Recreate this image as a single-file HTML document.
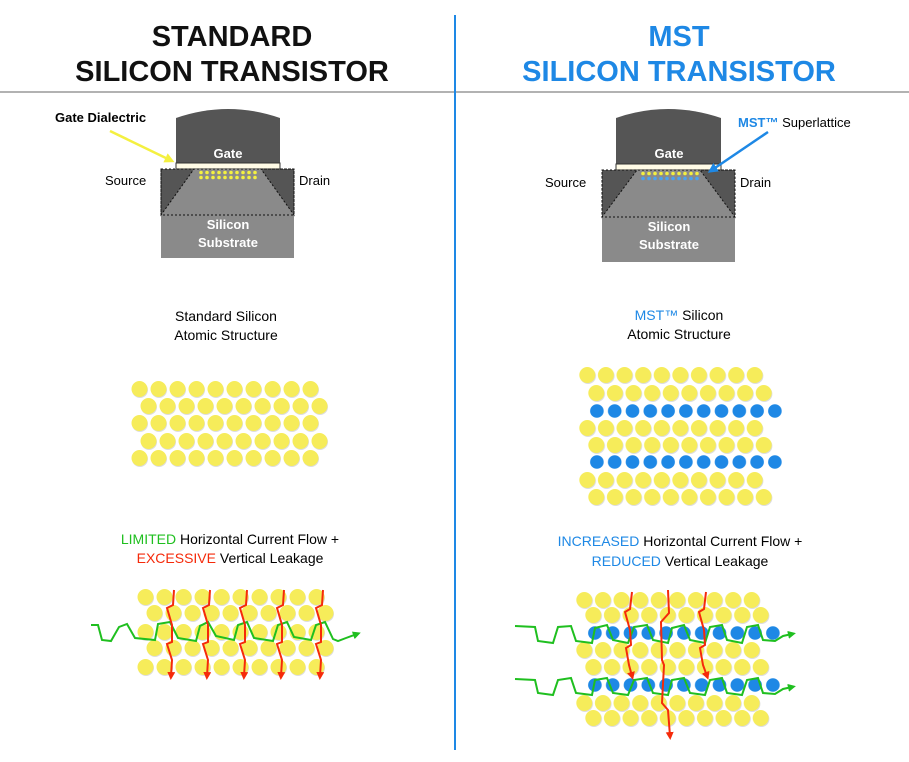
<!DOCTYPE html>
<html><head><meta charset="utf-8"><style>
html,body{margin:0;padding:0;background:#fff;}
svg{display:block;font-family:"Liberation Sans",sans-serif;}
</style></head><body>
<svg width="909" height="762" viewBox="0 0 909 762" xmlns="http://www.w3.org/2000/svg">
<defs>
<pattern id="py" x="0" y="0" width="19" height="20" patternUnits="userSpaceOnUse">
<circle cx="10" cy="11" r="8" fill="#ddd"/><circle cx="9.5" cy="10" r="8" fill="#f6ec5a"/></pattern>
<pattern id="pyr" x="0" y="0" width="18.6" height="20" patternUnits="userSpaceOnUse">
<circle cx="10" cy="11" r="8" fill="#ddd"/><circle cx="9.3" cy="10" r="8" fill="#f6ec5a"/></pattern>
<pattern id="pb" x="0" y="0" width="17.8" height="20" patternUnits="userSpaceOnUse">
<circle cx="8.9" cy="10" r="6.8" fill="#1e88e5"/></pattern>
<pattern id="ps" x="0" y="0" width="6" height="5" patternUnits="userSpaceOnUse">
<circle cx="3" cy="2.5" r="1.8" fill="#f4f040"/></pattern>
<pattern id="psb" x="0" y="0" width="6" height="5" patternUnits="userSpaceOnUse">
<circle cx="3" cy="2.5" r="1.8" fill="#4aa3f0"/></pattern>
<marker id="arr" viewBox="0 0 10 10" refX="5" refY="5" markerWidth="4" markerHeight="4" orient="auto"><path d="M0,0L10,5L0,10z" fill="#f52a0a"/></marker>
<marker id="arg" viewBox="0 0 10 10" refX="5" refY="5" markerWidth="4" markerHeight="4" orient="auto"><path d="M0,0L10,5L0,10z" fill="#1fbf1f"/></marker>
<marker id="ary" viewBox="0 0 10 10" refX="5" refY="5" markerWidth="4" markerHeight="4" orient="auto"><path d="M0,0L10,5L0,10z" fill="#f4f040"/></marker>
<marker id="arb" viewBox="0 0 10 10" refX="5" refY="5" markerWidth="4" markerHeight="4" orient="auto"><path d="M0,0L10,5L0,10z" fill="#1e88e5"/></marker>
</defs>

<g font-weight="bold" font-size="29" text-anchor="middle">
<text x="232" y="46" fill="#111">STANDARD</text>
<text x="232" y="81" fill="#111">SILICON TRANSISTOR</text>
<text x="679" y="46" fill="#1e88e5">MST</text>
<text x="679" y="81" fill="#1e88e5">SILICON TRANSISTOR</text>
</g>
<line x1="0" y1="92" x2="909" y2="92" stroke="#999" stroke-width="1.5"/>
<line x1="455" y1="15" x2="455" y2="750" stroke="#1e88e5" stroke-width="2"/>

<!-- left transistor -->
<g>
<path d="M176,163 L176,118 Q228,100 280,118 L280,163 Z" fill="#555"/>
<rect x="176" y="163" width="104" height="6" fill="#fffbe6" stroke="#333" stroke-width="1"/>
<rect x="161" y="169" width="133" height="89" fill="#8a8a8a"/>
<path d="M161,169 L194,169 L161,215 Z" fill="#555" stroke="#111" stroke-width="1" stroke-dasharray="2,2"/>
<path d="M294,169 L261,169 L294,215 Z" fill="#555" stroke="#111" stroke-width="1" stroke-dasharray="2,2"/>
<rect x="161" y="169" width="133" height="46" fill="none" stroke="#111" stroke-dasharray="2,2"/>
<g transform="translate(198,170)"><rect width="60" height="10" fill="url(#ps)"/></g>
<text x="228" y="158" fill="#fff" font-size="13" font-weight="bold" text-anchor="middle">Gate</text>
<text x="228" y="229" fill="#fff" font-size="13" font-weight="bold" text-anchor="middle">Silicon</text>
<text x="228" y="247" fill="#fff" font-size="13" font-weight="bold" text-anchor="middle">Substrate</text>
<text x="105" y="185" font-size="13">Source</text>
<text x="299" y="185" font-size="13">Drain</text>
<text x="55" y="122" font-size="13" font-weight="bold">Gate Dialectric</text>
<line x1="110" y1="131" x2="170" y2="160" stroke="#f4f040" stroke-width="2.5" marker-end="url(#ary)"/>
</g>

<!-- right transistor -->
<g>
<path d="M616,164 L616,118 Q668,100 721,118 L721,164 Z" fill="#555"/>
<rect x="616" y="164" width="105" height="6" fill="#fffbe6" stroke="#333" stroke-width="1"/>
<rect x="602" y="170" width="133" height="92" fill="#8a8a8a"/>
<path d="M602,170 L637,170 L602,217 Z" fill="#555" stroke="#111" stroke-dasharray="2,2"/>
<path d="M735,170 L700,170 L735,217 Z" fill="#555" stroke="#111" stroke-dasharray="2,2"/>
<rect x="602" y="170" width="133" height="47" fill="none" stroke="#111" stroke-dasharray="2,2"/>
<g transform="translate(640,171)"><rect width="60" height="5" fill="url(#ps)"/></g>
<g transform="translate(640,176)"><rect width="60" height="5" fill="url(#psb)"/></g>
<text x="669" y="158" fill="#fff" font-size="13" font-weight="bold" text-anchor="middle">Gate</text>
<text x="669" y="231" fill="#fff" font-size="13" font-weight="bold" text-anchor="middle">Silicon</text>
<text x="669" y="249" fill="#fff" font-size="13" font-weight="bold" text-anchor="middle">Substrate</text>
<text x="545" y="187" font-size="13">Source</text>
<text x="740" y="187" font-size="13">Drain</text>
<text x="738" y="127" font-size="13"><tspan fill="#1e88e5" font-weight="bold">MST™</tspan> Superlattice</text>
<line x1="768" y1="132" x2="712" y2="170" stroke="#1e88e5" stroke-width="2.5" marker-end="url(#arb)"/>
</g>

<g font-size="14" text-anchor="middle">
<text x="226" y="321">Standard Silicon</text>
<text x="226" y="340">Atomic Structure</text>
<text x="679" y="320"><tspan fill="#1e88e5">MST™</tspan> Silicon</text>
<text x="679" y="339">Atomic Structure</text>
<text x="230" y="544"><tspan fill="#1fbf1f">LIMITED</tspan> Horizontal Current Flow +</text>
<text x="230" y="563"><tspan fill="#f52a0a">EXCESSIVE</tspan> Vertical Leakage</text>
<text x="680" y="546"><tspan fill="#1e88e5">INCREASED</tspan> Horizontal Current Flow +</text>
<text x="680" y="566"><tspan fill="#1e88e5">REDUCED</tspan> Vertical Leakage</text>
</g>

<!-- left grid -->
<g transform="translate(130,379)"><rect width="190" height="20" fill="url(#py)"/></g>
<g transform="translate(139,396)"><rect width="190" height="20" fill="url(#py)"/></g>
<g transform="translate(130,413)"><rect width="190" height="20" fill="url(#py)"/></g>
<g transform="translate(139,431)"><rect width="190" height="20" fill="url(#py)"/></g>
<g transform="translate(130,448)"><rect width="190" height="20" fill="url(#py)"/></g>

<!-- right grid -->
<g transform="translate(578,365)"><rect width="186" height="20" fill="url(#pyr)"/></g>
<g transform="translate(587,383)"><rect width="186" height="20" fill="url(#pyr)"/></g>
<g transform="translate(588,401)"><rect width="196" height="20" fill="url(#pb)"/></g>
<g transform="translate(578,418)"><rect width="186" height="20" fill="url(#pyr)"/></g>
<g transform="translate(587,435)"><rect width="186" height="20" fill="url(#pyr)"/></g>
<g transform="translate(588,452)"><rect width="196" height="20" fill="url(#pb)"/></g>
<g transform="translate(578,470)"><rect width="186" height="20" fill="url(#pyr)"/></g>
<g transform="translate(587,487)"><rect width="186" height="20" fill="url(#pyr)"/></g>

<!-- bottom left grid -->
<g transform="translate(136,587)"><rect width="190" height="20" fill="url(#py)"/></g>
<g transform="translate(145,603)"><rect width="190" height="20" fill="url(#py)"/></g>
<g transform="translate(136,622)"><rect width="190" height="20" fill="url(#py)"/></g>
<g transform="translate(145,638)"><rect width="190" height="20" fill="url(#py)"/></g>
<g transform="translate(136,657)"><rect width="190" height="20" fill="url(#py)"/></g>
<path d="M91,625 L98,625 L102,640 L111,641 L119,627 L127,624 L135,638 L155,640 L158,624 L170,622 L178,638 L196,641 L200,626 L208,622 L216,636 L234,640 L238,625 L247,622 L254,638 L273,641 L278,625 L287,622 L294,637 L311,640 L316,625 L325,622 L333,639 L338,641 L346,638 L357,634" fill="none" stroke="#1fbf1f" stroke-width="2" marker-end="url(#arg)"/>
<g fill="none" stroke="#f52a0a" stroke-width="2" marker-end="url(#arr)">
<path d="M174,590 L173,605 L167,608 L172,625 L172,642 L167,644 L172,660 L171,676"/>
<path d="M210,590 L209,605 L203,608 L208,625 L208,642 L203,644 L208,660 L207,676"/>
<path d="M247,590 L246,605 L240,608 L245,625 L245,642 L240,644 L245,660 L244,676"/>
<path d="M284,590 L283,605 L277,608 L282,625 L282,642 L277,644 L282,660 L281,676"/>
<path d="M323,590 L322,605 L316,608 L321,625 L321,642 L316,644 L321,660 L320,676"/>
</g>

<!-- bottom right grid -->
<g transform="translate(575,590)"><rect width="186" height="20" fill="url(#pyr)"/></g>
<g transform="translate(584,605)"><rect width="186" height="20" fill="url(#pyr)"/></g>
<g transform="translate(586,623)"><rect width="196" height="20" fill="url(#pb)"/></g>
<g transform="translate(575,640)"><rect width="186" height="20" fill="url(#pyr)"/></g>
<g transform="translate(584,657)"><rect width="186" height="20" fill="url(#pyr)"/></g>
<g transform="translate(586,675)"><rect width="196" height="20" fill="url(#pb)"/></g>
<g transform="translate(575,693)"><rect width="186" height="20" fill="url(#pyr)"/></g>
<g transform="translate(584,708)"><rect width="186" height="20" fill="url(#pyr)"/></g>
<g fill="none" stroke="#1fbf1f" stroke-width="2">
<path d="M515,626 L535,627 L538,641 L553,643 L558,627 L571,626 L576,641 L592,643 L595,628 L607,625 L613,640 L628,643 L634,627 L647,625 L653,640 L668,643 L672,628 L684,625 L690,640 L705,643 L710,627 L722,625 L727,640 L742,643 L747,627 L758,625 L763,640 L775,641 L783,636 L792,634" marker-end="url(#arg)"/>
<path d="M515,679 L535,680 L538,693 L553,695 L558,680 L571,678 L576,693 L592,695 L595,680 L607,678 L613,693 L628,695 L634,680 L647,678 L653,693 L668,695 L672,680 L684,678 L690,693 L705,695 L710,680 L722,678 L727,693 L742,695 L747,680 L758,678 L763,693 L775,694 L783,689 L792,687" marker-end="url(#arg)"/>
</g>
<g fill="none" stroke="#f52a0a" stroke-width="2">
<path d="M632,592 L630,609 L625,612 L630,630 L631,645 L626,648 L629,665 L632,676" marker-end="url(#arr)"/>
<path d="M668,590 L669,613 L661,622 L662,660 L664,665 L662,703 L668,710 L670,736" marker-end="url(#arr)"/>
<path d="M706,592 L704,609 L699,612 L704,630 L705,645 L700,648 L703,665 L707,676" marker-end="url(#arr)"/>
</g>
</svg>
</body></html>
